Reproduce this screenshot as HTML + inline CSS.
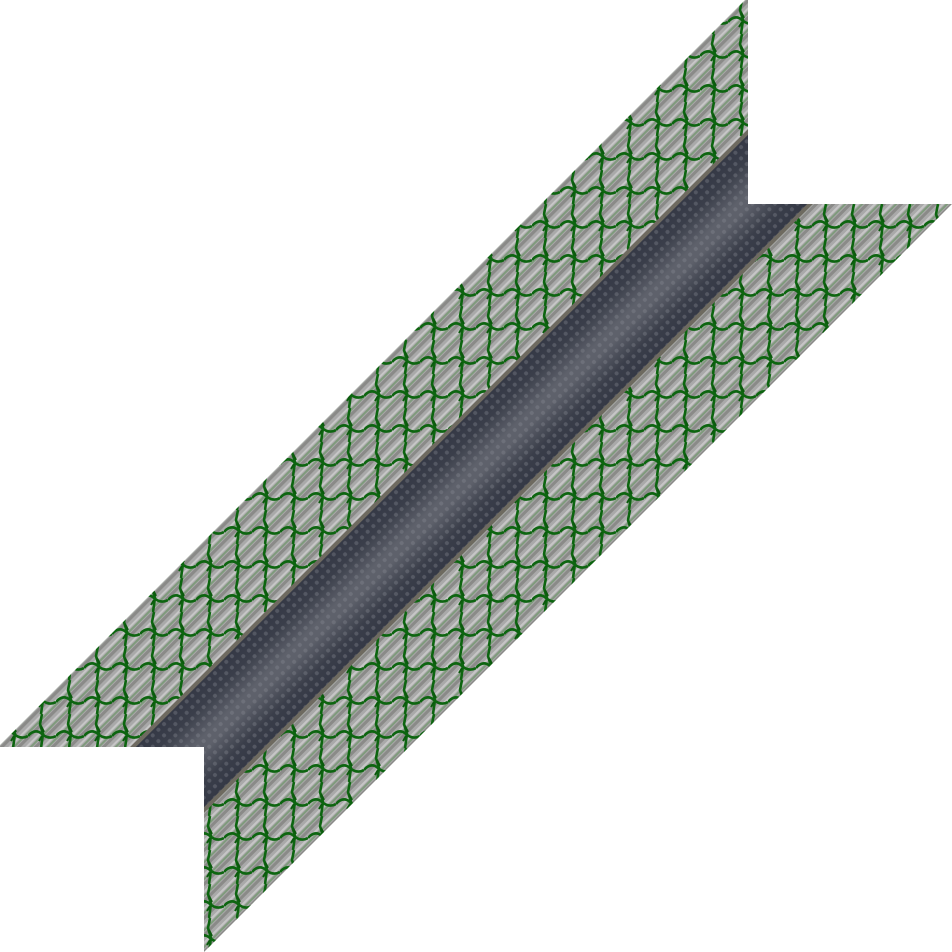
<!DOCTYPE html>
<html><head><meta charset="utf-8"><style>html,body{margin:0;padding:0;background:#fff;width:952px;height:952px;overflow:hidden}svg{display:block}</style></head>
<body>
<svg width="952" height="952" viewBox="0 0 952 952" xmlns="http://www.w3.org/2000/svg">
<defs>
<clipPath id="shape"><polygon points="748,0 748,204 952,204 204,952 204,747 0,747 0,745 745,0"/></clipPath>
<linearGradient id="dark" gradientUnits="userSpaceOnUse" x1="440" y1="440" x2="507" y2="507">
<stop offset="0" stop-color="#343845"/><stop offset="0.2" stop-color="#3a3e4a"/><stop offset="0.45" stop-color="#5e616b"/><stop offset="0.55" stop-color="#5e616b"/><stop offset="0.8" stop-color="#3a3e4a"/><stop offset="1" stop-color="#343845"/></linearGradient>
<pattern id="dots" width="8" height="8" patternUnits="userSpaceOnUse" patternTransform="rotate(45)">
<circle cx="4" cy="4" r="2" fill="#8a8c94" opacity="0.35"/></pattern>
<pattern id="streak" width="12" height="30" patternUnits="userSpaceOnUse" patternTransform="rotate(45)">
<rect width="12" height="30" fill="#a9a9a9"/><rect x="0" width="3" height="30" fill="#8a8a88"/><rect x="6" width="2" height="30" fill="#c6c6c6"/><rect x="9" width="2" height="30" fill="#7f9a7c"/></pattern>
<pattern id="net" width="28" height="34" patternUnits="userSpaceOnUse">
<path d="M14,0 L12,10 L15,20 L13,34 M0,22 Q7,14 14,20 Q21,26 28,22" fill="none" stroke="#0d6510" stroke-width="2.6"/>
<path d="M13,12 l3,6 M14,22 l-3,5" stroke="#0a5a0c" stroke-width="2"/></pattern>
</defs>
<g clip-path="url(#shape)">
<polygon points="745,0 880,0 0,880 0,745" fill="url(#streak)"/>
<polygon points="745,0 880,0 0,880 0,745" fill="url(#net)"/>
<polygon points="1014,0 1157,0 0,1157 0,1014" fill="url(#streak)"/>
<polygon points="1014,0 1157,0 0,1157 0,1014" fill="url(#net)"/>
<polygon points="880,0 1014,0 0,1014 0,880" fill="url(#dark)"/>
<polygon points="880,0 1014,0 0,1014 0,880" fill="url(#dots)"/>
<line x1="880" y1="0" x2="0" y2="880" stroke="#6e6a60" stroke-width="4"/>
<line x1="1014" y1="0" x2="0" y2="1014" stroke="#6e6a60" stroke-width="4"/>
</g>
</svg>
</body></html>
